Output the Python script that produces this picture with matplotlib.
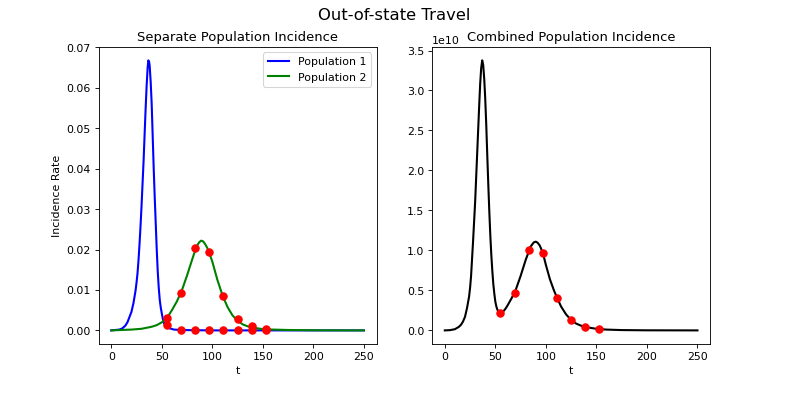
import numpy as np
import matplotlib
matplotlib.use("Agg")
import matplotlib.pyplot as plt

# model curves
t1 = [0, 4, 8, 11, 14, 16, 18, 20, 22, 24, 25, 26, 27, 28, 29, 30, 31, 32, 33, 34, 35,
      36, 36.7, 37.5, 38, 39, 40, 41, 42, 43, 44, 45, 46, 47, 48, 49, 50, 51, 52, 53, 55,
      58, 62, 70, 80, 100, 150, 200, 250]
pop1 = [0.0, 0.0001, 0.0002, 0.0005, 0.0012, 0.0020, 0.0033, 0.0046, 0.0068, 0.0098,
        0.0118, 0.0142, 0.0175, 0.0215, 0.0260, 0.0310, 0.0365, 0.0420, 0.0485, 0.0548,
        0.0605, 0.0650, 0.0668, 0.0664, 0.0655, 0.0615, 0.0560, 0.0480, 0.0400, 0.0330,
        0.0265, 0.0200, 0.0145, 0.0105, 0.0075, 0.0056, 0.0042, 0.0029, 0.0019, 0.0014,
        0.0010, 0.0005, 0.0002, 0.0001, 0.00005, 0.0, 0.0, 0.0, 0.0]

t2 = [0, 10, 20, 30, 40, 45, 50, 55, 60, 65, 70, 75, 80, 82, 85, 87, 89, 91, 93, 95,
      97.5, 100, 105, 110, 115, 120, 125, 130, 135, 140, 150, 160, 175, 200, 250]
pop2 = [0.0, 0.0001, 0.0002, 0.0004, 0.0009, 0.0013, 0.0020, 0.0030, 0.0050, 0.0072,
        0.0100, 0.0136, 0.0175, 0.0190, 0.0210, 0.0218, 0.0222, 0.0220, 0.0213, 0.0204,
        0.0188, 0.0170, 0.0125, 0.0087, 0.0058, 0.0037, 0.0024, 0.0015, 0.0010, 0.0007,
        0.0003, 0.0002, 0.0001, 0.00003, 0.0]

t3 = [0, 5, 10, 14, 16, 18, 20, 22, 24, 25, 26, 27, 28, 29, 30, 31, 32, 33, 34, 35, 36,
      37, 38, 39, 40, 41, 42, 43, 44, 45, 46, 47, 48, 49, 50, 51, 52, 54, 56, 58, 60, 62,
      66, 70, 75, 80, 85, 88, 90, 92, 94, 96, 98, 100, 102, 104, 108, 111, 115, 120, 125,
      130, 135, 140, 150, 160, 175, 200, 250]
combined = [0.0, 0.003, 0.015, 0.045, 0.07, 0.11, 0.17, 0.28, 0.42, 0.53, 0.68, 0.90,
            1.12, 1.36, 1.60, 1.90, 2.20, 2.50, 2.80, 3.08, 3.28, 3.377, 3.32, 3.15, 2.90,
            2.58, 2.20, 1.84, 1.50, 1.20, 0.95, 0.75, 0.58, 0.46, 0.36, 0.30, 0.26, 0.22,
            0.215, 0.24, 0.27, 0.31, 0.40, 0.50, 0.68, 0.88, 1.05, 1.10, 1.11, 1.095, 1.06,
            1.00, 0.92, 0.82, 0.73, 0.64, 0.50, 0.41, 0.30, 0.20, 0.13, 0.085, 0.058, 0.040,
            0.020, 0.010, 0.004, 0.001, 0.0]  # x 1e10

# observations (red dots)
t_obs = [55, 69, 83, 97, 111, 125, 139, 153]
obs1 = [0.0014, 0.0001, 0.0, 0.0, 0.0, 0.0, 0.0, 0.0]
obs2 = [0.0030, 0.0093, 0.0203, 0.0195, 0.0084, 0.0028, 0.0010, 0.0003]
obs_comb = [0.22, 0.47, 1.01, 0.97, 0.41, 0.135, 0.045, 0.017]  # x 1e10

fig, (ax1, ax2) = plt.subplots(1, 2, figsize=(10, 5), dpi=78.9)
fig.subplots_adjust(left=0.125, right=0.9, top=0.88, bottom=0.127, wspace=0.2)
fig.suptitle("Out-of-state Travel", fontsize=15)

ax1.plot(t1, pop1, color="b", lw=1.9, label="Population 1")
ax1.plot(t2, pop2, color="g", lw=1.9, label="Population 2")
ax1.scatter(t_obs, obs2, color="r", s=45, zorder=3)
ax1.scatter(t_obs, obs1, color="r", s=45, zorder=3)
ax1.set_title("Separate Population Incidence")
ax1.set_xlabel("t")
ax1.set_ylabel("Incidence Rate")
ax1.legend(loc="upper right")

ax2.plot(t3, np.array(combined) * 1e10, color="k", lw=1.9)
ax2.scatter(t_obs, np.array(obs_comb) * 1e10, color="r", s=45, zorder=3)
ax2.set_title("Combined Population Incidence")
ax2.set_xlabel("t")

fig.savefig("out.png", dpi=78.9)
